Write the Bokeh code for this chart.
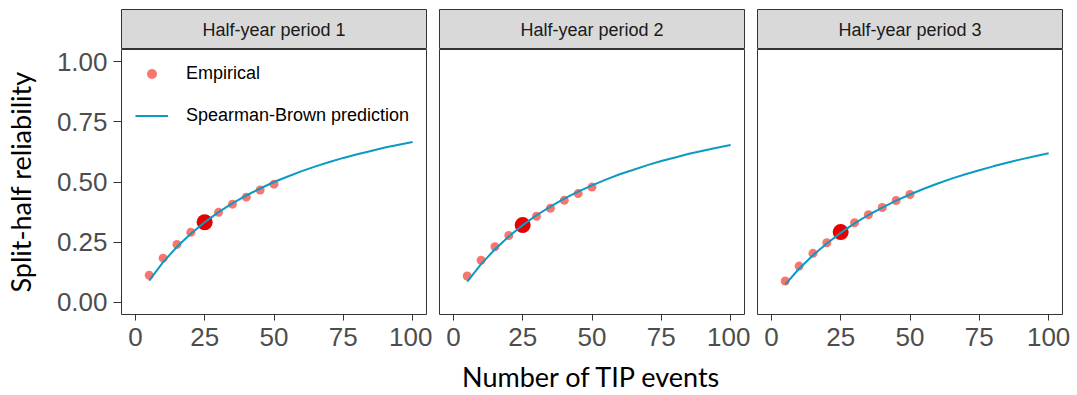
from bokeh.plotting import figure
from bokeh.models import Range1d, FixedTicker, NumeralTickFormatter, Legend, LegendItem
from bokeh.layouts import row, column
from bokeh.embed import file_html
from bokeh.resources import INLINE
from bokeh.core.properties import value

# ---------------- data ----------------
periods = ["Half-year period 1", "Half-year period 2", "Half-year period 3"]

emp_x = [5, 10, 15, 20, 25, 30, 35, 40, 45, 50]
emp_p1 = [0.113, 0.184, 0.241, 0.291, 0.333, 0.374, 0.408, 0.437, 0.467, 0.491]
emp_p2 = [0.110, 0.175, 0.231, 0.278, 0.321, 0.358, 0.391, 0.424, 0.452, 0.479]
emp_p3 = [0.089, 0.151, 0.204, 0.248, 0.292, 0.331, 0.364, 0.394, 0.423, 0.448]

sb_x = [5, 10, 15, 20, 25, 30, 35, 40, 45, 50, 55, 60, 65, 70, 75, 80, 85, 90, 95, 100]
sb_p1 = [0.091, 0.167, 0.231, 0.285, 0.333, 0.375, 0.411, 0.444, 0.473, 0.500,
         0.523, 0.545, 0.565, 0.583, 0.600, 0.615, 0.629, 0.643, 0.655, 0.666]
sb_p2 = [0.086, 0.159, 0.221, 0.274, 0.321, 0.362, 0.398, 0.431, 0.460, 0.486,
         0.510, 0.532, 0.551, 0.570, 0.587, 0.602, 0.617, 0.630, 0.642, 0.654]
sb_p3 = [0.075, 0.140, 0.196, 0.245, 0.289, 0.328, 0.363, 0.394, 0.423, 0.448,
         0.472, 0.494, 0.514, 0.532, 0.549, 0.565, 0.580, 0.594, 0.607, 0.619]

highlight_x = [25]
highlight_p1 = [0.333]
highlight_p2 = [0.321]
highlight_p3 = [0.292]

x_ticks = [0, 25, 50, 75, 100]
y_ticks = [0.0, 0.25, 0.50, 0.75, 1.00]

emp_all = [emp_p1, emp_p2, emp_p3]
sb_all = [sb_p1, sb_p2, sb_p3]
hl_all = [highlight_p1, highlight_p2, highlight_p3]

# ---------------- style ----------------
PT_COLOR = "#F8766D"
LINE_COLOR = "#0B9AC3"
HL_COLOR = "#E80000"
BORDER = "#333333"
TICK_TXT = "#4D4D4D"
SANS = "Liberation Sans"
TITLE_FONT = "Lato"

left_b = [0, 7, 7]
right_b = [6, 6, 15]
FRAME_W = 305
FRAME_H = 265

# shared y axis (drawn in its own narrow figure so tick labels are never clipped)
yfig = figure(frame_width=2, frame_height=FRAME_H,
              min_border_left=119, min_border_right=0,
              min_border_top=49, min_border_bottom=81,
              x_range=Range1d(0, 1), y_range=Range1d(-0.05, 1.05),
              x_axis_location=None, y_axis_location="left",
              toolbar_location=None, output_backend="svg")
yfig.outline_line_color = None
yfig.xgrid.visible = False
yfig.ygrid.visible = False
ay = yfig.yaxis[0]
ay.ticker = FixedTicker(ticks=y_ticks)
ay.formatter = NumeralTickFormatter(format="0.00")
ay.axis_line_color = None
ay.major_tick_line_color = BORDER
ay.major_tick_out = 6
ay.major_tick_in = 2
ay.minor_tick_line_color = None
ay.major_label_text_font = SANS
ay.major_label_text_font_size = "26px"
ay.major_label_text_color = TICK_TXT
ay.major_label_standoff = 6
ay.axis_label = "Split-half reliability"
ay.axis_label_text_font = TITLE_FONT
ay.axis_label_text_font_size = "27px"
ay.axis_label_text_font_style = "normal"
ay.axis_label_text_color = "black"
ay.axis_label_standoff = 17

strips = []
panels = []
for i in range(3):
    # strip (facet header)
    s = figure(frame_width=FRAME_W, frame_height=40,
               min_border_left=left_b[i], min_border_right=right_b[i],
               min_border_top=9, min_border_bottom=0,
               x_range=Range1d(0, 1), y_range=Range1d(0, 1),
               x_axis_location=None, y_axis_location=None,
               toolbar_location=None, output_backend="svg")
    s.background_fill_color = "#D9D9D9"
    s.outline_line_color = BORDER
    s.outline_line_width = 1
    s.xgrid.visible = False
    s.ygrid.visible = False
    s.text(x=[0.5], y=[0.5], text=[periods[i]], text_align="center",
           text_baseline="middle", text_font=value(SANS),
           text_font_size="18px", text_color="#1A1A1A")
    strips.append(s)

    # panel
    p = figure(frame_width=FRAME_W, frame_height=FRAME_H,
               min_border_left=left_b[i], min_border_right=right_b[i],
               min_border_top=0, min_border_bottom=81,
               x_range=Range1d(-5, 105), y_range=yfig.y_range,
               y_axis_location=None,
               toolbar_location=None, output_backend="svg")
    p.xgrid.visible = False
    p.ygrid.visible = False
    p.outline_line_color = BORDER
    p.outline_line_width = 1
    p.background_fill_color = "white"
    p.border_fill_color = "white"

    r_pts = p.scatter(emp_x, emp_all[i], size=9, fill_color=PT_COLOR,
                      line_color=None)
    p.scatter(highlight_x, hl_all[i], size=16, fill_color=HL_COLOR,
              line_color=None)
    r_line = p.line(sb_x, sb_all[i], line_color=LINE_COLOR, line_width=2)

    ax = p.xaxis[0]
    ax.ticker = FixedTicker(ticks=x_ticks)
    ax.axis_line_color = None
    ax.major_tick_line_color = BORDER
    ax.major_tick_out = 6
    ax.major_tick_in = 0
    ax.minor_tick_line_color = None
    ax.major_label_text_font = SANS
    ax.major_label_text_font_size = "26px"
    ax.major_label_text_color = TICK_TXT
    ax.major_label_standoff = 7
    if i == 1:
        ax.axis_label = "Number of TIP events"
        ax.axis_label_text_font = TITLE_FONT
        ax.axis_label_text_font_size = "27px"
        ax.axis_label_text_font_style = "normal"
        ax.axis_label_text_color = "black"
        ax.axis_label_standoff = 11

    if i == 0:
        legend = Legend(items=[LegendItem(label="Empirical", renderers=[r_pts]),
                               LegendItem(label="Spearman-Brown prediction", renderers=[r_line])],
                        location=(14, 186))
        legend.padding = 0
        legend.margin = 0
        legend.glyph_width = 33
        legend.glyph_height = 25
        legend.label_height = 25
        legend.spacing = 17
        legend.label_standoff = 18
        legend.label_text_font = SANS
        legend.label_text_font_size = "18px"
        legend.label_text_color = "black"
        legend.border_line_color = None
        legend.background_fill_alpha = 0
        p.add_layout(legend)

    panels.append(p)

layout = row(yfig, column(row(*strips), row(*panels)))
open("out.html", "w").write(file_html(layout, INLINE))
